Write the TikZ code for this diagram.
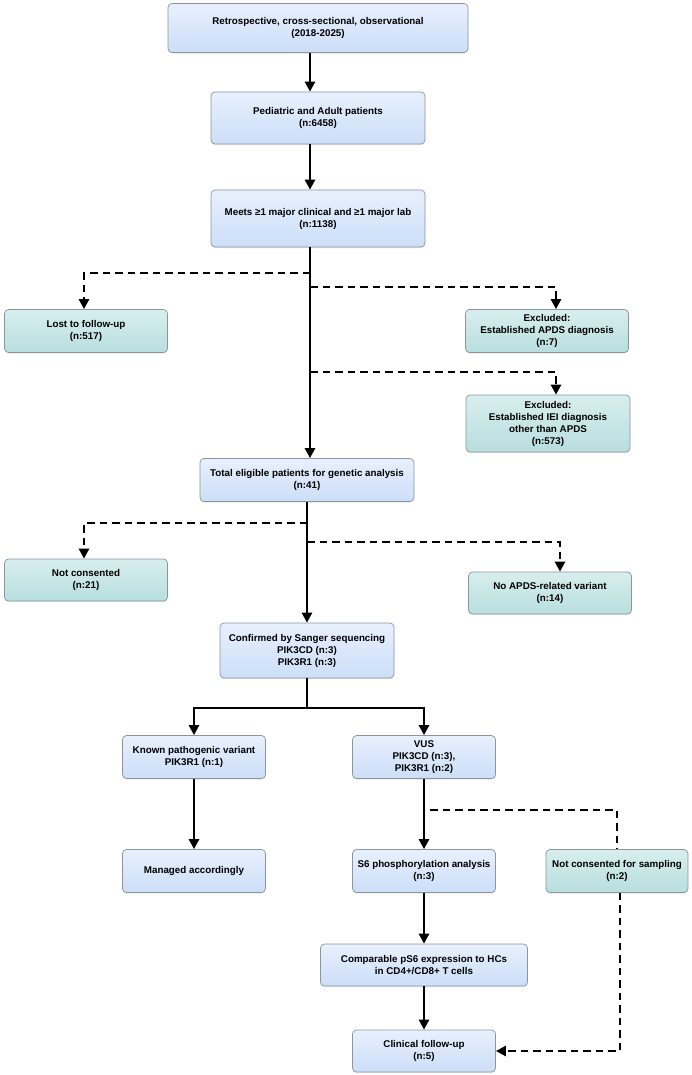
\documentclass[tikz,border=0pt]{standalone}
\usepackage{fontspec}
\setmainfont{Liberation Sans}
\usetikzlibrary{arrows.meta,shadows}
\definecolor{boxblueT}{RGB}{232,240,253}
\definecolor{boxblueB}{RGB}{204,222,248}
\definecolor{boxtealT}{RGB}{216,238,238}
\definecolor{boxtealB}{RGB}{184,222,222}
\definecolor{boxedge}{RGB}{140,148,158}
\tikzset{
  flowbox/.style={draw=boxedge,line width=0.7pt,rounded corners=4pt,align=center,
    font=\fontsize{9.8}{12}\selectfont\bfseries,inner sep=2pt,
    drop shadow={opacity=0.18,shadow xshift=0pt,shadow yshift=-1.2pt}},
  bluebox/.style={flowbox,top color=boxblueT,bottom color=boxblueB},
  tealbox/.style={flowbox,top color=boxtealT,bottom color=boxtealB},
  flow/.style={-{Triangle[length=10pt,width=10pt]},line width=2.6pt},
  skip/.style={-{Triangle[length=10pt,width=10pt]},line width=2.5pt,dash pattern=on 7.5pt off 5pt},
}

\begin{document}
\begin{tikzpicture}[x=1pt,y=-1pt,line cap=butt]
  \useasboundingbox (0,0) rectangle (691,1075);
  \coordinate (spine) at (310,0);

  % main path
  \node[bluebox,minimum width=300,minimum height=49] (retro) at (318,28)
    {Retrospective, cross-sectional, observational\\(2018-2025)};
  \node[bluebox,minimum width=214,minimum height=52] (ped) at (318,118)
    {Pediatric and Adult patients\\(n:6458)};
  \node[bluebox,minimum width=214,minimum height=57] (meets) at (318,218.5)
    {Meets ≥1 major clinical and ≥1 major lab\\(n:1138)};
  \node[bluebox,minimum width=214,minimum height=43] (total) at (307,480)
    {Total eligible patients for genetic analysis\\(n:41)};
  \node[bluebox,minimum width=174,minimum height=55] (sanger) at (307,650.5)
    {Confirmed by Sanger sequencing\\PIK3CD (n:3)\\PIK3R1 (n:3)};
  \node[bluebox,minimum width=143,minimum height=43] (known) at (194,757)
    {Known pathogenic variant\\PIK3R1 (n:1)};
  \node[bluebox,minimum width=143,minimum height=43] (vus) at (424,757)
    {VUS\\PIK3CD (n:3),\\PIK3R1 (n:2)};
  \node[bluebox,minimum width=143,minimum height=43] (managed) at (194,871)
    {Managed accordingly};
  \node[bluebox,minimum width=143,minimum height=43] (s6) at (424,871)
    {S6 phosphorylation analysis\\(n:3)};
  \node[bluebox,minimum width=207,minimum height=42] (comp) at (424,965)
    {Comparable pS6 expression to HCs\\in CD4+/CD8+ T cells};
  \node[bluebox,minimum width=143,minimum height=42] (clin) at (424,1051)
    {Clinical follow-up\\(n:5)};

  % exclusions
  \node[tealbox,minimum width=163,minimum height=43] (lost) at (86,331)
    {Lost to follow-up\\(n:517)};
  \node[tealbox,minimum width=163,minimum height=43] (exapds) at (547,331)
    {Excluded:\\Established APDS diagnosis\\(n:7)};
  \node[tealbox,minimum width=164,minimum height=57] (exiei) at (548,423.5)
    {Excluded:\\Established IEI diagnosis\\other than APDS\\(n:573)};
  \node[tealbox,minimum width=163,minimum height=42] (notcons) at (86,580)
    {Not consented\\(n:21)};
  \node[tealbox,minimum width=163,minimum height=42] (novar) at (550,593)
    {No APDS-related variant\\(n:14)};
  \node[tealbox,minimum width=142,minimum height=43] (nocs) at (617,871)
    {Not consented for sampling\\(n:2)};

  \coordinate (b1) at (310,273);
  \coordinate (b2) at (310,287);
  \coordinate (b3) at (310,372);
  \coordinate (b4) at (307,523);
  \coordinate (b5) at (307,542);
  \coordinate (split) at (307,708);
  \coordinate (b6) at (430,810);

  \draw[flow] (retro.south -| spine) -- (ped.north -| spine);
  \draw[flow] (ped.south -| spine) -- (meets.north -| spine);
  \draw[flow] (meets.south -| spine) -- (total.north -| spine);
  \draw[skip] (b1) -| ([xshift=-2pt]lost.north);
  \draw[skip] (b2) -| ([xshift=9pt]exapds.north);
  \draw[skip] (b3) -| ([xshift=8pt]exiei.north);

  \draw[flow] (total.south) -- (sanger.north);
  \draw[skip] (b4) -| ([xshift=-2pt]notcons.north);
  \draw[skip] (b5) -| ([xshift=10pt]novar.north);

  \draw[line width=2.6pt] (sanger.south) -- (split);
  \draw[flow] (split) -| (known.north);
  \draw[flow] (split) -| (vus.north);
  \draw[flow] (known) -- (managed);
  \draw[flow] (vus) -- (s6);
  \draw[skip,-] (b6) -| (nocs.north);
  \draw[flow] (s6) -- (comp);
  \draw[flow] (comp) -- (clin);
  \draw[skip] ([xshift=3pt]nocs.south) |- (clin.east);
\end{tikzpicture}
\end{document}
